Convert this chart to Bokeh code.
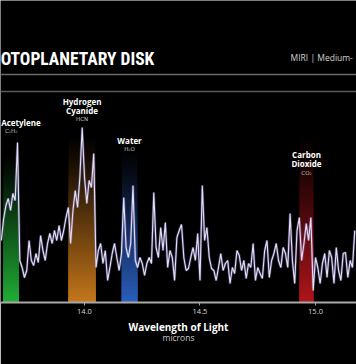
import numpy as np
from bokeh.plotting import figure
from bokeh.models import Range1d, Label, Span, FixedTicker, LinearAxis, ColumnDataSource
from bokeh.core.properties import value
from bokeh.embed import file_html
from bokeh.resources import INLINE

# ---------------- data ----------------
wl_start = 13.64          # microns, first sample
wl_step = 0.01            # microns, sampling step
flux = [
    0.62, 0.84, 0.97, 1.04, 0.92, 1.09, 1.02, 1.60, 0.42, 0.35, 0.25, 0.32, 0.62,
    0.42, 0.37, 0.49, 0.40, 0.67, 0.52, 0.42, 0.59, 0.69, 0.59, 0.72, 0.62, 0.77,
    0.62, 0.72, 0.85, 0.95, 0.59, 0.92, 1.12, 0.95, 1.25, 1.75, 1.25, 0.99, 1.22,
    1.15, 1.49, 0.35, 0.52, 0.59, 0.39, 0.52, 0.22, 0.35, 0.49, 0.59, 0.45, 0.32,
    0.49, 1.05, 0.55, 0.45, 0.59, 1.17, 0.42, 0.35, 0.45, 0.39, 0.27, 0.39, 0.45,
    0.39, 1.10, 0.55, 0.45, 0.75, 0.52, 0.80, 0.35, 0.52, 0.45, 0.22, 0.65, 0.72,
    0.78, 0.45, 0.32, 0.34, 0.45, 0.55, 0.42, 0.69, 0.22, 1.17, 0.62, 0.75, 0.45,
    0.34, 0.32, 0.22, 0.35, 0.49, 0.32, 0.39, 0.42, 0.19, 0.35, 0.29, 0.52, 0.47,
    0.32, 0.42, 0.24, 0.39, 0.35, 0.59, 0.22, 0.35, 0.29, 0.24, 0.52, 0.62, 0.25,
    0.42, 0.49, 0.59, 0.42, 0.35, 0.55, 0.49, 0.35, 0.89, 0.42, 0.19, 0.72, 0.85,
    0.42, 0.59, 0.79, 0.62, 0.85, 0.12, 0.45, 0.35, 0.19, 0.39, 0.49, 0.25, 0.52,
    0.45, 0.19, 0.55, 0.32, 0.22, 0.49, 0.50, 0.25, 0.42, 0.35, 0.72,
]
wavelength = np.round(wl_start + wl_step * np.arange(len(flux)), 3)

molecules = ["Acetylene", "Hydrogen Cyanide", "Water", "Carbon Dioxide"]
formulas = ["C\u2082H\u2082", "HCN", "H\u2082O", "CO\u2082"]
band_lo = [13.650, 13.932, 14.162, 14.932]
band_hi = [13.715, 14.047, 14.228, 14.990]

tick_values = [14.0, 14.5, 15.0]
tick_labels = ["14.0", "14.5", "15.0"]

title_text = "OTOPLANETARY DISK"
instrument_text = "MIRI | Medium-"

# ---------------- style ----------------
band_colors = ["#22b538", "#cc7b1c", "#2c62c2", "#b5161c"]
band_fade_top = [1.50, 1.68, 1.55, 1.70]
label_top = [1.80, 2.015, 1.62, 1.48]
name_step = 0.093
formula_gap = 0.088
title_font = "'Roboto Condensed', 'DejaVu Sans Condensed', 'Liberation Sans Narrow', Roboto, 'Liberation Sans', sans-serif"

p = figure(width=356, height=364,
           x_range=Range1d(13.6364, 15.1775), y_range=Range1d(0, 3.02),
           toolbar_location=None, output_backend="svg",
           y_axis_location=None,
           background_fill_color="#000000", border_fill_color="#000000",
           min_border_left=0, min_border_right=0, min_border_top=0,
           min_border_bottom=62)
p.outline_line_color = None
p.grid.visible = False


def scaled(hexc, k):
    r, g, b = int(hexc[1:3], 16), int(hexc[3:5], 16), int(hexc[5:7], 16)
    return "#%02x%02x%02x" % (int(r * k), int(g * k), int(b * k))


# gradient bands (tallest/dimmest first)
n = 60
for lo, hi, col, top in zip(band_lo, band_hi, band_colors, band_fade_top):
    tops, cols = [], []
    for j in range(n):
        f = 1 - j / n
        inten = max(0.0, 1 - (f - 0.5 / n)) ** 1.15 * 0.97
        tops.append(top * f)
        cols.append(scaled(col, inten))
    p.quad(left=[lo] * n, right=[hi] * n, bottom=[0] * n, top=tops,
           fill_color=cols, line_color=None)

# spectrum
src = ColumnDataSource(dict(wl=wavelength, fx=flux))
p.line("wl", "fx", source=src, line_color="#8f7fd6", line_width=2.6, line_alpha=0.4)
p.line("wl", "fx", source=src, line_color="#e2ddf2", line_width=1.15)

# molecule labels
nx, ny, nt, na = [], [], [], []
fx_, fy_, ft_ = [], [], []
x_left = p.x_range.start
for name, form, lo, hi, top in zip(molecules, formulas, band_lo, band_hi, label_top):
    c = (lo + hi) / 2
    parts = name.split(" ")
    for i, part in enumerate(parts):
        # keep a label that would spill over the left edge inside the picture
        if c - x_left < 0.1:
            nx.append(x_left + 0.003); na.append("left")
        else:
            nx.append(c); na.append("center")
        ny.append(top - i * name_step); nt.append(part)
    fx_.append(c); fy_.append(top - (len(parts) - 1) * name_step - formula_gap); ft_.append(form)

p.text(x=nx, y=ny, text=nt, text_align=na, text_baseline="middle",
       text_color="#ffffff", text_font=value("Open Sans"), text_font_style="bold",
       text_font_size="8px")
p.text(x=fx_, y=fy_, text=ft_, text_align="center", text_baseline="middle",
       text_color="#c4c4c4", text_font=value("DejaVu Sans"), text_font_size="5.5px")

# header
p.add_layout(Label(x=x_left + 0.001, y=2.44, text=title_text, text_align="left",
                   text_baseline="alphabetic", text_color="#ffffff",
                   text_font=title_font, text_font_style="bold",
                   text_font_size="17.5px"))
p.add_layout(Label(x=14.892, y=2.45, text=instrument_text, text_align="left",
                   text_baseline="alphabetic", text_color="#d4d4d4",
                   text_font="Open Sans", text_font_size="8.5px"))
p.add_layout(Span(location=2.28, dimension="width", line_color="#6a6a6a", line_width=1.5))
p.add_layout(Span(location=2.11, dimension="width", line_color="#5a5a5a", line_width=1.5))

# x axis
ax = p.xaxis[0]
ax.ticker = FixedTicker(ticks=tick_values)
ax.major_label_overrides = {v: s for v, s in zip(tick_values, tick_labels)}
ax.axis_line_color = "#a8a8a8"
ax.axis_line_width = 2
ax.major_tick_line_color = "#a8a8a8"
ax.major_tick_out = 3
ax.major_tick_in = 0
ax.minor_tick_line_color = None
ax.major_label_standoff = 3
ax.major_label_text_font = "Open Sans"
ax.major_label_text_font_size = "7.5px"
ax.major_label_text_color = "#d6d6d6"
ax.axis_label = "Wavelength of Light"
ax.axis_label_text_font = "Open Sans"
ax.axis_label_text_font_style = "bold"
ax.axis_label_text_font_size = "10px"
ax.axis_label_text_color = "#ffffff"
ax.axis_label_standoff = 3

ax2 = LinearAxis(axis_label="microns", ticker=FixedTicker(ticks=[]),
                 axis_line_color=None, major_tick_line_color=None,
                 minor_tick_line_color=None, major_tick_out=0, major_tick_in=0,
                 minor_tick_out=0, minor_tick_in=0, major_label_standoff=0,
                 major_label_text_font_size="0px",
                 axis_label_text_font="Open Sans", axis_label_text_font_style="normal",
                 axis_label_text_font_size="8.5px", axis_label_text_color="#c8c8c8",
                 axis_label_standoff=-5)
p.add_layout(ax2, "below")

open("out.html", "w").write(file_html(p, INLINE))
